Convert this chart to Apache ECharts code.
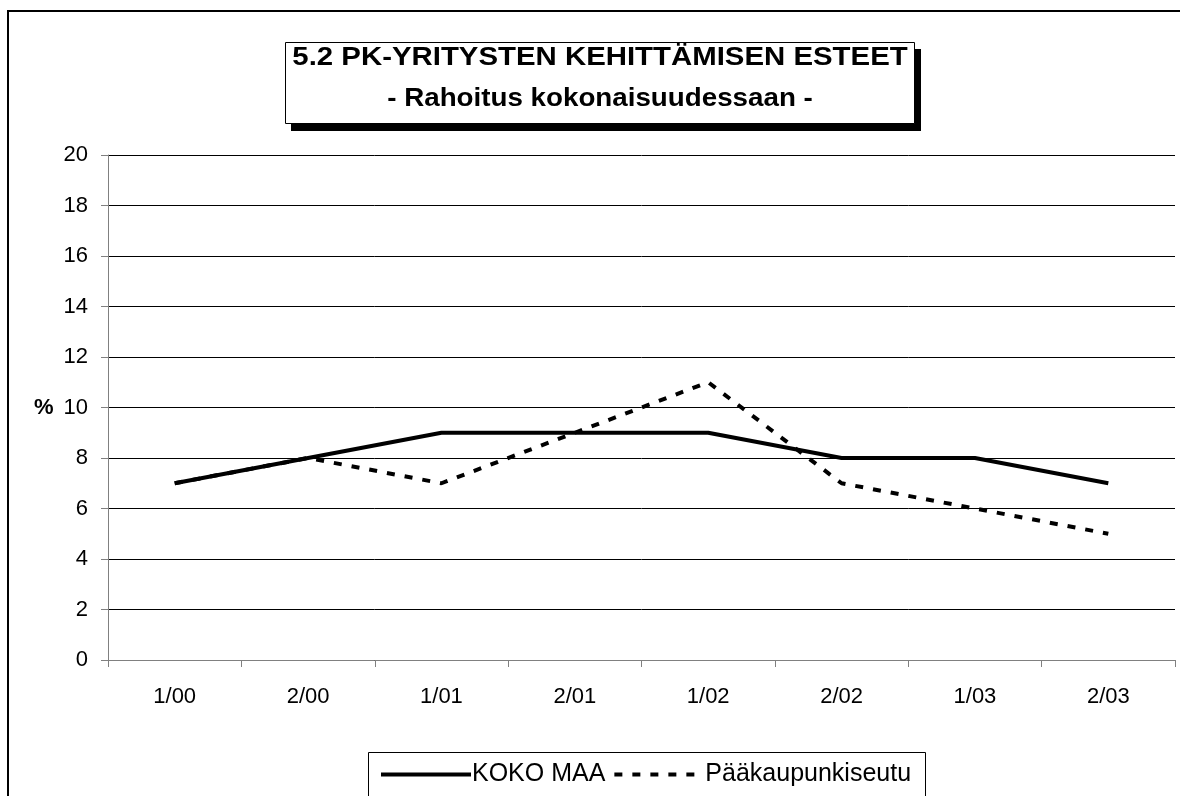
<!DOCTYPE html>
<html>
<head>
<meta charset="utf-8">
<script src="https://cdn.jsdelivr.net/npm/echarts@6/dist/echarts.min.js"></script>
<style>
  html, body { margin: 0; padding: 0; background: #fff; }
  #chart { width: 1180px; height: 796px; }
</style>
</head>
<body>
<div id="chart"></div>
<script>
const categories = ['1/00', '2/00', '1/01', '2/01', '1/02', '2/02', '1/03', '2/03']
const kokoMaa = [7, 8, 9, 9, 9, 8, 8, 7]
const paakaupunkiseutu = [7, 8, 7, 9, 11, 7, 6, 5]
const titleLines = ['5.2 PK-YRITYSTEN KEHITTÄMISEN ESTEET', '- Rahoitus kokonaisuudessaan -']

const font = '"Liberation Sans", Arial, sans-serif'
const chart = echarts.init(document.getElementById('chart'))

const option = {
    backgroundColor: '#fff',
    animation: false,
    textStyle: { fontFamily: font },
    grid: { left: 108, right: 5, top: 155, bottom: 136 },
    graphic: [
        // outer frame
        { type: 'rect', z: 0, shape: { x: 8, y: 11, width: 1200, height: 820 },
          style: { fill: null, stroke: '#000', lineWidth: 2 } },
        // title box with shadow
        { type: 'rect', z: 1, shape: { x: 291, y: 49, width: 630, height: 82 },
          style: { fill: '#000' } },
        { type: 'rect', z: 2, shape: { x: 285.5, y: 42.5, width: 629, height: 81 },
          style: { fill: '#fff', stroke: '#000', lineWidth: 1 } },
        { type: 'text', z: 3, x: 600, y: 58, scaleX: 1.175,
          style: { text: titleLines[0], font: 'bold 25px ' + font, fill: '#000',
                   textAlign: 'center', textVerticalAlign: 'middle' } },
        { type: 'text', z: 3, x: 600, y: 99, scaleX: 1.11,
          style: { text: titleLines[1], font: 'bold 25px ' + font, fill: '#000',
                   textAlign: 'center', textVerticalAlign: 'middle' } },
        // % label
        { type: 'text', z: 3, x: 34, y: 408,
          style: { text: '%', font: 'bold 22px ' + font, fill: '#000',
                   textVerticalAlign: 'middle' } },
        // legend box
        { type: 'rect', z: 1, shape: { x: 368.5, y: 752.5, width: 557, height: 80 },
          style: { fill: '#fff', stroke: '#000', lineWidth: 1 } }
    ],
    legend: {
        left: 374, top: 757, z: 5,
        itemWidth: 90, itemHeight: 26, itemGap: 7,
        itemStyle: { opacity: 0 },
        lineStyle: { width: 4 },
        textStyle: { fontSize: 25, color: '#000', fontFamily: font, padding: [0, 0, 0, -4] },
        data: ['KOKO MAA', 'Pääkaupunkiseutu']
    },
    xAxis: {
        type: 'category',
        data: categories,
        boundaryGap: true,
        axisLine: { lineStyle: { color: '#808080', width: 1 } },
        axisTick: { show: true, length: 7, lineStyle: { color: '#808080' } },
        axisLabel: { fontSize: 22, color: '#000', margin: 26, fontFamily: font }
    },
    yAxis: {
        type: 'value',
        min: 0, max: 20, interval: 2,
        axisLine: { show: true, lineStyle: { color: '#808080', width: 1 } },
        axisTick: { show: true, length: 7, lineStyle: { color: '#808080' } },
        axisLabel: { fontSize: 22, color: '#000', margin: 20, fontFamily: font },
        splitLine: { lineStyle: { color: '#000', width: 1 } }
    },
    series: [
        {
            name: 'KOKO MAA', type: 'line', data: kokoMaa,
            symbol: 'none',
            lineStyle: { color: '#000', width: 4 },
            itemStyle: { color: '#000' }
        },
        {
            name: 'Pääkaupunkiseutu', type: 'line', data: paakaupunkiseutu,
            symbol: 'none',
            lineStyle: { color: '#000', width: 4, type: [8, 10] },
            itemStyle: { color: '#000' }
        }
    ]
}

chart.setOption(option)
</script>
</body>
</html>
